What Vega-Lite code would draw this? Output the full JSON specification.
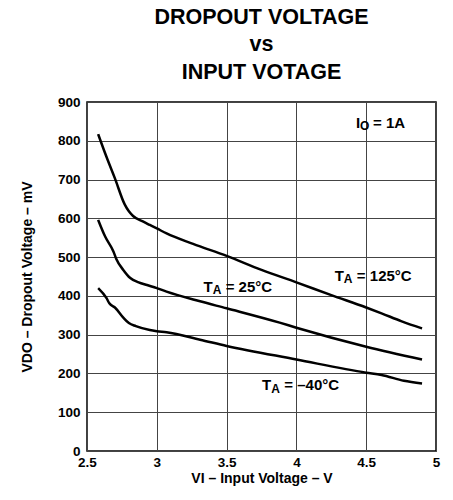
{
  "$schema": "https://vega.github.io/schema/vega-lite/v6.json",
  "width": 349,
  "height": 349,
  "autosize": "none",
  "padding": {"left": 87, "top": 102, "right": 17, "bottom": 49},
  "background": "white",
  "config": {
    "font": "Liberation Sans",
    "view": {"stroke": "#000", "strokeWidth": 1.5},
    "axis": {
      "grid": true, "gridColor": "#444", "gridWidth": 1, "gridOpacity": 1,
      "domain": false, "ticks": false,
      "labelFont": "Liberation Sans", "labelFontWeight": "bold", "labelFontSize": 13.5, "labelColor": "#000",
      "titleFont": "Liberation Sans", "titleFontWeight": "bold", "titleFontSize": 14, "titleColor": "#000"
    }
  },
  "title": {
    "text": ["DROPOUT VOLTAGE", "vs", "INPUT VOTAGE"],
    "fontSize": 21.5, "fontWeight": "bold", "font": "Liberation Sans", "color": "#000",
    "lineHeight": 27.5, "offset": 12, "anchor": "middle"
  },
  "datasets": {
    "curves": [
      {"series": "125", "vi": 2.58, "vdo": 817},
      {"series": "125", "vi": 2.64, "vdo": 758},
      {"series": "125", "vi": 2.70, "vdo": 703},
      {"series": "125", "vi": 2.77, "vdo": 636},
      {"series": "125", "vi": 2.80, "vdo": 618},
      {"series": "125", "vi": 2.83, "vdo": 606},
      {"series": "125", "vi": 2.90, "vdo": 592},
      {"series": "125", "vi": 2.95, "vdo": 583},
      {"series": "125", "vi": 3.00, "vdo": 574},
      {"series": "125", "vi": 3.07, "vdo": 561},
      {"series": "125", "vi": 3.26, "vdo": 534},
      {"series": "125", "vi": 3.50, "vdo": 503},
      {"series": "125", "vi": 3.75, "vdo": 467},
      {"series": "125", "vi": 4.00, "vdo": 435},
      {"series": "125", "vi": 4.25, "vdo": 402},
      {"series": "125", "vi": 4.50, "vdo": 370},
      {"series": "125", "vi": 4.61, "vdo": 355},
      {"series": "125", "vi": 4.75, "vdo": 335},
      {"series": "125", "vi": 4.90, "vdo": 316},
      {"series": "25", "vi": 2.58, "vdo": 596},
      {"series": "25", "vi": 2.63, "vdo": 553},
      {"series": "25", "vi": 2.69, "vdo": 514},
      {"series": "25", "vi": 2.71, "vdo": 495},
      {"series": "25", "vi": 2.76, "vdo": 467},
      {"series": "25", "vi": 2.81, "vdo": 446},
      {"series": "25", "vi": 2.87, "vdo": 435},
      {"series": "25", "vi": 2.93, "vdo": 428},
      {"series": "25", "vi": 3.00, "vdo": 420},
      {"series": "25", "vi": 3.07, "vdo": 411},
      {"series": "25", "vi": 3.31, "vdo": 386},
      {"series": "25", "vi": 3.50, "vdo": 368},
      {"series": "25", "vi": 3.88, "vdo": 331},
      {"series": "25", "vi": 4.00, "vdo": 318},
      {"series": "25", "vi": 4.50, "vdo": 269},
      {"series": "25", "vi": 4.90, "vdo": 236},
      {"series": "-40", "vi": 2.58, "vdo": 420},
      {"series": "-40", "vi": 2.64, "vdo": 394},
      {"series": "-40", "vi": 2.66, "vdo": 381},
      {"series": "-40", "vi": 2.70, "vdo": 370},
      {"series": "-40", "vi": 2.76, "vdo": 344},
      {"series": "-40", "vi": 2.80, "vdo": 330},
      {"series": "-40", "vi": 2.85, "vdo": 322},
      {"series": "-40", "vi": 2.95, "vdo": 312},
      {"series": "-40", "vi": 3.00, "vdo": 309},
      {"series": "-40", "vi": 3.07, "vdo": 306},
      {"series": "-40", "vi": 3.31, "vdo": 287},
      {"series": "-40", "vi": 3.50, "vdo": 271},
      {"series": "-40", "vi": 4.00, "vdo": 236},
      {"series": "-40", "vi": 4.50, "vdo": 202},
      {"series": "-40", "vi": 4.61, "vdo": 196},
      {"series": "-40", "vi": 4.77, "vdo": 181},
      {"series": "-40", "vi": 4.90, "vdo": 174}
    ],
    "labels": [
      {"vi": 4.34, "vdo": 439, "main": "T", "sub": "A", "rest": "= 125°C"},
      {"vi": 3.40, "vdo": 411, "main": "T", "sub": "A", "rest": "= 25°C"},
      {"vi": 3.82, "vdo": 157, "main": "T", "sub": "A", "rest": "= –40°C"},
      {"vi": 4.456, "vdo": 834, "main": "I", "sub": "O", "rest": "= 1A"}
    ]
  },
  "encoding": {
    "x": {
      "field": "vi", "type": "quantitative",
      "scale": {"domain": [2.5, 5], "nice": false, "zero": false},
      "axis": {"values": [2.5, 3, 3.5, 4, 4.5, 5], "format": "~g", "labelPadding": 4, "labelFlush": false, "labelOverlap": false, "labelBound": false, "title": "VI – Input Voltage – V", "titlePadding": 3}
    },
    "y": {
      "field": "vdo", "type": "quantitative",
      "scale": {"domain": [0, 900], "nice": false},
      "axis": {"values": [0, 100, 200, 300, 400, 500, 600, 700, 800, 900], "labelPadding": 7, "labelFlush": false, "labelOverlap": false, "title": "VDO – Dropout Voltage – mV", "titlePadding": 23}
    }
  },
  "layer": [
    {
      "data": {"name": "curves"},
      "mark": {"type": "line", "color": "#000", "strokeWidth": 2.5, "interpolate": "monotone"},
      "encoding": {"detail": {"field": "series"}}
    },
    {
      "data": {"name": "labels"},
      "mark": {"type": "text", "align": "right", "baseline": "alphabetic", "fontSize": 15, "fontWeight": "bold", "fill": "#000"},
      "encoding": {"text": {"field": "main"}}
    },
    {
      "data": {"name": "labels"},
      "mark": {"type": "text", "align": "left", "baseline": "alphabetic", "dy": 2.5, "fontSize": 12, "fontWeight": "bold", "fill": "#000"},
      "encoding": {"text": {"field": "sub"}}
    },
    {
      "data": {"name": "labels"},
      "mark": {"type": "text", "align": "left", "baseline": "alphabetic", "dx": 13, "fontSize": 15, "fontWeight": "bold", "fill": "#000"},
      "encoding": {"text": {"field": "rest"}}
    }
  ]
}
